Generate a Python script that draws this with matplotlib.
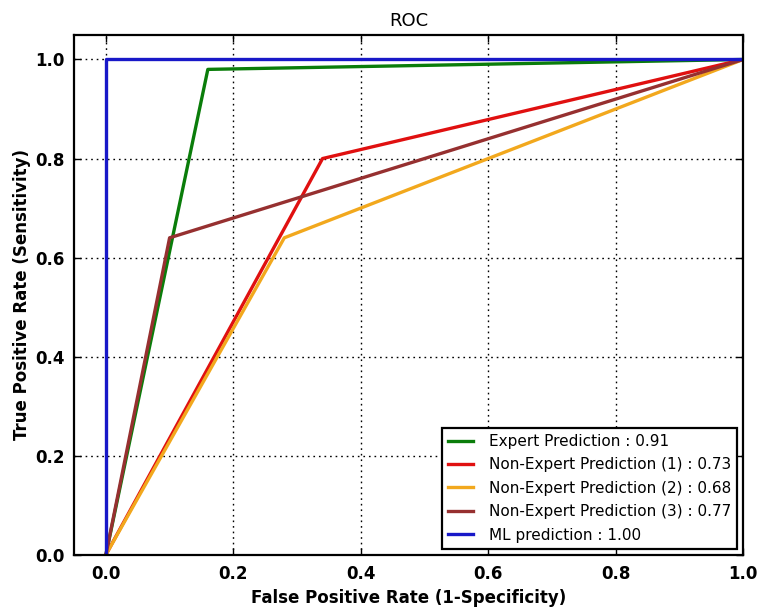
import matplotlib
matplotlib.use("Agg")
import matplotlib.pyplot as plt

labels = ["Expert Prediction : 0.91",
          "Non-Expert Prediction (1) : 0.73",
          "Non-Expert Prediction (2) : 0.68",
          "Non-Expert Prediction (3) : 0.77",
          "ML prediction : 1.00"]
fpr_expert = [0.0, 0.16, 1.0]
tpr_expert = [0.0, 0.98, 1.0]
fpr_ne1 = [0.0, 0.34, 1.0]
tpr_ne1 = [0.0, 0.80, 1.0]
fpr_ne2 = [0.0, 0.28, 1.0]
tpr_ne2 = [0.0, 0.64, 1.0]
fpr_ne3 = [0.0, 0.10, 1.0]
tpr_ne3 = [0.0, 0.64, 1.0]
fpr_ml = [0.0, 0.0, 1.0]
tpr_ml = [0.0, 1.0, 1.0]
colors = ["#0a7d0a", "#e01010", "#f2a81d", "#963030", "#1818c8"]

fig = plt.figure(figsize=(7.63, 6.09), dpi=100)
ax = fig.add_axes([0.097, 0.089, 0.877, 0.854])
series = [(fpr_expert, tpr_expert), (fpr_ne1, tpr_ne1), (fpr_ne2, tpr_ne2),
          (fpr_ne3, tpr_ne3), (fpr_ml, tpr_ml)]
for (x, y), lab, c in zip(series, labels, colors):
    ax.plot(x, y, color=c, lw=2.4, label=lab)

ax.set_xlim(-0.05, 1.0)
ax.set_ylim(0.0, 1.05)
ax.set_xticks([0.0, 0.2, 0.4, 0.6, 0.8, 1.0])
ax.set_yticks([0.0, 0.2, 0.4, 0.6, 0.8, 1.0])
ax.grid(True, color="black", linestyle=(0, (1.2, 2.8)), linewidth=1.0)
for s in ax.spines.values():
    s.set_linewidth(1.6)
ax.tick_params(labelsize=12, width=1, length=5, direction="in", top=True, right=True, pad=7)
for t in ax.get_xticklabels() + ax.get_yticklabels():
    t.set_fontweight("bold")
ax.set_xlabel("False Positive Rate (1-Specificity)", fontsize=12, fontweight="bold", labelpad=5)
ax.set_ylabel("True Positive Rate (Sensitivity)", fontsize=12, fontweight="bold", labelpad=3)
ax.set_title("ROC", fontsize=13)
leg = ax.legend(loc="lower right", fontsize=11, fancybox=False, framealpha=1,
                edgecolor="black", handlelength=1.65, handletextpad=1.0,
                borderpad=0.4, labelspacing=0.55, borderaxespad=0.4)
leg.get_frame().set_linewidth(1.6)
fig.savefig("out.png", dpi=100)
